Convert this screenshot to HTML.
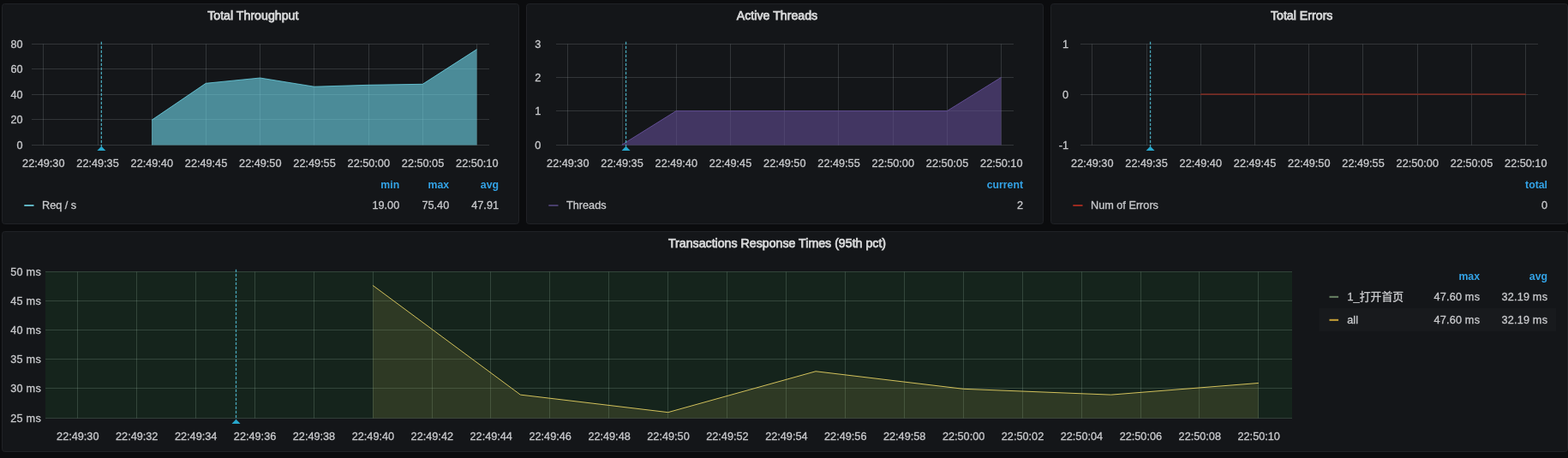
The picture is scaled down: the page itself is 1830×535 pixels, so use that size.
<!DOCTYPE html>
<html><head><meta charset="utf-8"><title>Dashboard</title>
<style>
html,body{margin:0;padding:0;background:#0b0c0e;overflow:hidden}
body{width:1830px;height:535px;font-family:"Liberation Sans",sans-serif}
svg{display:block;will-change:transform}
svg text{font-family:"Liberation Sans",sans-serif;stroke:#c8c9cc;stroke-width:0.3px}
.ttl{stroke:#d8d9da;stroke-width:0.75px}
.hdr{font-size:12.3px;stroke:none}
</style></head><body>
<svg width="1830" height="535" viewBox="0 0 1830 535" font-family="Liberation Sans, sans-serif">
<rect width="1830" height="535" fill="#0b0c0e"/>
<rect x="2.5" y="4.5" width="603" height="257" rx="3" fill="#141619" stroke="#202226"/>
<text x="295.3" y="22.75" text-anchor="middle" font-size="14.2" fill="#d8d9da" font-weight="normal" class="ttl">Total Throughput</text>
<path d="M37 51.5H571" stroke="rgba(200,205,212,0.17)" stroke-width="1"/>
<path d="M37 80.5H571" stroke="rgba(200,205,212,0.17)" stroke-width="1"/>
<path d="M37 110.5H571" stroke="rgba(200,205,212,0.17)" stroke-width="1"/>
<path d="M37 139.5H571" stroke="rgba(200,205,212,0.17)" stroke-width="1"/>
<path d="M37 169.5H571" stroke="rgba(200,205,212,0.17)" stroke-width="1"/>
<path d="M50.5 51.5V169.5" stroke="rgba(200,205,212,0.17)" stroke-width="1"/>
<path d="M114.5 51.5V169.5" stroke="rgba(200,205,212,0.17)" stroke-width="1"/>
<path d="M177.5 51.5V169.5" stroke="rgba(200,205,212,0.17)" stroke-width="1"/>
<path d="M240.5 51.5V169.5" stroke="rgba(200,205,212,0.17)" stroke-width="1"/>
<path d="M303.5 51.5V169.5" stroke="rgba(200,205,212,0.17)" stroke-width="1"/>
<path d="M366.5 51.5V169.5" stroke="rgba(200,205,212,0.17)" stroke-width="1"/>
<path d="M430.5 51.5V169.5" stroke="rgba(200,205,212,0.17)" stroke-width="1"/>
<path d="M493.5 51.5V169.5" stroke="rgba(200,205,212,0.17)" stroke-width="1"/>
<path d="M556.5 51.5V169.5" stroke="rgba(200,205,212,0.17)" stroke-width="1"/>
<text x="26.6" y="55.9" text-anchor="end" font-size="12.7" fill="#c8c9cc" font-weight="normal" >80</text>
<text x="26.6" y="84.9" text-anchor="end" font-size="12.7" fill="#c8c9cc" font-weight="normal" >60</text>
<text x="26.6" y="114.9" text-anchor="end" font-size="12.7" fill="#c8c9cc" font-weight="normal" >40</text>
<text x="26.6" y="143.9" text-anchor="end" font-size="12.7" fill="#c8c9cc" font-weight="normal" >20</text>
<text x="26.6" y="173.9" text-anchor="end" font-size="12.7" fill="#c8c9cc" font-weight="normal" >0</text>
<text x="50.8" y="194.8" text-anchor="middle" font-size="12.7" fill="#c8c9cc" font-weight="normal" >22:49:30</text>
<text x="114.05" y="194.8" text-anchor="middle" font-size="12.7" fill="#c8c9cc" font-weight="normal" >22:49:35</text>
<text x="177.3" y="194.8" text-anchor="middle" font-size="12.7" fill="#c8c9cc" font-weight="normal" >22:49:40</text>
<text x="240.55" y="194.8" text-anchor="middle" font-size="12.7" fill="#c8c9cc" font-weight="normal" >22:49:45</text>
<text x="303.8" y="194.8" text-anchor="middle" font-size="12.7" fill="#c8c9cc" font-weight="normal" >22:49:50</text>
<text x="367.05" y="194.8" text-anchor="middle" font-size="12.7" fill="#c8c9cc" font-weight="normal" >22:49:55</text>
<text x="430.3" y="194.8" text-anchor="middle" font-size="12.7" fill="#c8c9cc" font-weight="normal" >22:50:00</text>
<text x="493.55" y="194.8" text-anchor="middle" font-size="12.7" fill="#c8c9cc" font-weight="normal" >22:50:05</text>
<text x="556.8" y="194.8" text-anchor="middle" font-size="12.7" fill="#c8c9cc" font-weight="normal" >22:50:10</text>
<path d="M177.00 140.3 L240.25 97.3 L303.50 91.0 L366.75 101.2 L430.00 99.3 L493.25 98.3 L556.50 57.6 L556.50 169.5 L177.00 169.5Z" fill="rgba(112,219,237,0.6)"/>
<path d="M177.00 140.3 L240.25 97.3 L303.50 91.0 L366.75 101.2 L430.00 99.3 L493.25 98.3 L556.50 57.6" fill="none" stroke="#70dbed" stroke-opacity="0.75" stroke-width="1" stroke-linejoin="round"/>
<path d="M118.35 48.8V171.0" stroke="#48a6b8" stroke-width="1.3" stroke-dasharray="3.2 1.8"/>
<path d="M118.35 170.7l5 5.3h-10z" fill="#27a7cc"/>
<rect x="28.3" y="239" width="11.2" height="2" fill="#5fb3c1"/>
<text x="49" y="243.8" text-anchor="start" font-size="12.7" fill="#c8c9cc" font-weight="normal" >Req / s</text>
<text x="466.2" y="220.3" text-anchor="end" font-size="12.7" fill="#33a2e5" font-weight="bold" class="hdr">min</text>
<text x="466.2" y="243.8" text-anchor="end" font-size="12.7" fill="#c8c9cc" font-weight="normal" >19.00</text>
<text x="524.2" y="220.3" text-anchor="end" font-size="12.7" fill="#33a2e5" font-weight="bold" class="hdr">max</text>
<text x="524.2" y="243.8" text-anchor="end" font-size="12.7" fill="#c8c9cc" font-weight="normal" >75.40</text>
<text x="582" y="220.3" text-anchor="end" font-size="12.7" fill="#33a2e5" font-weight="bold" class="hdr">avg</text>
<text x="582" y="243.8" text-anchor="end" font-size="12.7" fill="#c8c9cc" font-weight="normal" >47.91</text>
<rect x="614.5" y="4.5" width="603" height="257" rx="3" fill="#141619" stroke="#202226"/>
<text x="907" y="22.75" text-anchor="middle" font-size="14.2" fill="#d8d9da" font-weight="normal" class="ttl">Active Threads</text>
<path d="M649 51.5H1183" stroke="rgba(200,205,212,0.17)" stroke-width="1"/>
<path d="M649 90.5H1183" stroke="rgba(200,205,212,0.17)" stroke-width="1"/>
<path d="M649 129.5H1183" stroke="rgba(200,205,212,0.17)" stroke-width="1"/>
<path d="M649 169.5H1183" stroke="rgba(200,205,212,0.17)" stroke-width="1"/>
<path d="M662.5 51.5V169.5" stroke="rgba(200,205,212,0.17)" stroke-width="1"/>
<path d="M726.5 51.5V169.5" stroke="rgba(200,205,212,0.17)" stroke-width="1"/>
<path d="M789.5 51.5V169.5" stroke="rgba(200,205,212,0.17)" stroke-width="1"/>
<path d="M852.5 51.5V169.5" stroke="rgba(200,205,212,0.17)" stroke-width="1"/>
<path d="M915.5 51.5V169.5" stroke="rgba(200,205,212,0.17)" stroke-width="1"/>
<path d="M978.5 51.5V169.5" stroke="rgba(200,205,212,0.17)" stroke-width="1"/>
<path d="M1042.5 51.5V169.5" stroke="rgba(200,205,212,0.17)" stroke-width="1"/>
<path d="M1105.5 51.5V169.5" stroke="rgba(200,205,212,0.17)" stroke-width="1"/>
<path d="M1168.5 51.5V169.5" stroke="rgba(200,205,212,0.17)" stroke-width="1"/>
<text x="624.2" y="55.9" text-anchor="start" font-size="12.7" fill="#c8c9cc" font-weight="normal" >3</text>
<text x="624.2" y="94.9" text-anchor="start" font-size="12.7" fill="#c8c9cc" font-weight="normal" >2</text>
<text x="624.2" y="133.9" text-anchor="start" font-size="12.7" fill="#c8c9cc" font-weight="normal" >1</text>
<text x="624.2" y="173.9" text-anchor="start" font-size="12.7" fill="#c8c9cc" font-weight="normal" >0</text>
<text x="662.8" y="194.8" text-anchor="middle" font-size="12.7" fill="#c8c9cc" font-weight="normal" >22:49:30</text>
<text x="726.05" y="194.8" text-anchor="middle" font-size="12.7" fill="#c8c9cc" font-weight="normal" >22:49:35</text>
<text x="789.3" y="194.8" text-anchor="middle" font-size="12.7" fill="#c8c9cc" font-weight="normal" >22:49:40</text>
<text x="852.55" y="194.8" text-anchor="middle" font-size="12.7" fill="#c8c9cc" font-weight="normal" >22:49:45</text>
<text x="915.8" y="194.8" text-anchor="middle" font-size="12.7" fill="#c8c9cc" font-weight="normal" >22:49:50</text>
<text x="979.05" y="194.8" text-anchor="middle" font-size="12.7" fill="#c8c9cc" font-weight="normal" >22:49:55</text>
<text x="1042.3" y="194.8" text-anchor="middle" font-size="12.7" fill="#c8c9cc" font-weight="normal" >22:50:00</text>
<text x="1105.55" y="194.8" text-anchor="middle" font-size="12.7" fill="#c8c9cc" font-weight="normal" >22:50:05</text>
<text x="1168.8" y="194.8" text-anchor="middle" font-size="12.7" fill="#c8c9cc" font-weight="normal" >22:50:10</text>
<path d="M725.75 169.2 L789.00 129.7 L852.25 129.7 L915.50 129.7 L978.75 129.7 L1042.00 129.7 L1105.25 129.7 L1168.50 90.4 L1168.50 169.5 L725.75 169.5Z" fill="rgba(97,77,147,0.6)"/>
<path d="M725.75 169.2 L789.00 129.7 L852.25 129.7 L915.50 129.7 L978.75 129.7 L1042.00 129.7 L1105.25 129.7 L1168.50 90.4" fill="none" stroke="#614d93" stroke-width="1" stroke-linejoin="round"/>
<path d="M730.55 48.8V171.0" stroke="#48a6b8" stroke-width="1.3" stroke-dasharray="3.2 1.8"/>
<path d="M730.55 170.7l5 5.3h-10z" fill="#27a7cc"/>
<rect x="640.3" y="239" width="11.2" height="2" fill="#483e6b"/>
<text x="661" y="243.8" text-anchor="start" font-size="12.7" fill="#c8c9cc" font-weight="normal" >Threads</text>
<text x="1194" y="220.3" text-anchor="end" font-size="12.7" fill="#33a2e5" font-weight="bold" class="hdr">current</text>
<text x="1194" y="243.8" text-anchor="end" font-size="12.7" fill="#c8c9cc" font-weight="normal" >2</text>
<rect x="1226.5" y="4.5" width="603" height="257" rx="3" fill="#141619" stroke="#202226"/>
<text x="1519.2" y="22.75" text-anchor="middle" font-size="14.2" fill="#d8d9da" font-weight="normal" class="ttl">Total Errors</text>
<path d="M1261 51.5H1795" stroke="rgba(200,205,212,0.17)" stroke-width="1"/>
<path d="M1261 110.5H1795" stroke="rgba(200,205,212,0.17)" stroke-width="1"/>
<path d="M1261 169.5H1795" stroke="rgba(200,205,212,0.17)" stroke-width="1"/>
<path d="M1274.5 51.5V169.5" stroke="rgba(200,205,212,0.17)" stroke-width="1"/>
<path d="M1338.5 51.5V169.5" stroke="rgba(200,205,212,0.17)" stroke-width="1"/>
<path d="M1401.5 51.5V169.5" stroke="rgba(200,205,212,0.17)" stroke-width="1"/>
<path d="M1464.5 51.5V169.5" stroke="rgba(200,205,212,0.17)" stroke-width="1"/>
<path d="M1527.5 51.5V169.5" stroke="rgba(200,205,212,0.17)" stroke-width="1"/>
<path d="M1590.5 51.5V169.5" stroke="rgba(200,205,212,0.17)" stroke-width="1"/>
<path d="M1654.5 51.5V169.5" stroke="rgba(200,205,212,0.17)" stroke-width="1"/>
<path d="M1717.5 51.5V169.5" stroke="rgba(200,205,212,0.17)" stroke-width="1"/>
<path d="M1780.5 51.5V169.5" stroke="rgba(200,205,212,0.17)" stroke-width="1"/>
<text x="1247.0" y="55.9" text-anchor="end" font-size="12.7" fill="#c8c9cc" font-weight="normal" >1</text>
<text x="1247.0" y="114.9" text-anchor="end" font-size="12.7" fill="#c8c9cc" font-weight="normal" >0</text>
<text x="1247.0" y="173.9" text-anchor="end" font-size="12.7" fill="#c8c9cc" font-weight="normal" >-1</text>
<text x="1274.8" y="194.8" text-anchor="middle" font-size="12.7" fill="#c8c9cc" font-weight="normal" >22:49:30</text>
<text x="1338.05" y="194.8" text-anchor="middle" font-size="12.7" fill="#c8c9cc" font-weight="normal" >22:49:35</text>
<text x="1401.3" y="194.8" text-anchor="middle" font-size="12.7" fill="#c8c9cc" font-weight="normal" >22:49:40</text>
<text x="1464.55" y="194.8" text-anchor="middle" font-size="12.7" fill="#c8c9cc" font-weight="normal" >22:49:45</text>
<text x="1527.8" y="194.8" text-anchor="middle" font-size="12.7" fill="#c8c9cc" font-weight="normal" >22:49:50</text>
<text x="1591.05" y="194.8" text-anchor="middle" font-size="12.7" fill="#c8c9cc" font-weight="normal" >22:49:55</text>
<text x="1654.3" y="194.8" text-anchor="middle" font-size="12.7" fill="#c8c9cc" font-weight="normal" >22:50:00</text>
<text x="1717.55" y="194.8" text-anchor="middle" font-size="12.7" fill="#c8c9cc" font-weight="normal" >22:50:05</text>
<text x="1780.8" y="194.8" text-anchor="middle" font-size="12.7" fill="#c8c9cc" font-weight="normal" >22:50:10</text>
<rect x="1401.00" y="109" width="380.00" height="1" fill="#5a2520"/>
<rect x="1401.00" y="110" width="380.00" height="1" fill="#7a2f26"/>
<path d="M1342.55 48.8V171.0" stroke="#48a6b8" stroke-width="1.3" stroke-dasharray="3.2 1.8"/>
<path d="M1342.55 170.7l5 5.3h-10z" fill="#27a7cc"/>
<rect x="1252.3" y="239" width="11.2" height="2" fill="#9b2a1f"/>
<text x="1273" y="243.8" text-anchor="start" font-size="12.7" fill="#c8c9cc" font-weight="normal" >Num of Errors</text>
<text x="1806" y="220.3" text-anchor="end" font-size="12.7" fill="#33a2e5" font-weight="bold" class="hdr">total</text>
<text x="1806" y="243.8" text-anchor="end" font-size="12.7" fill="#c8c9cc" font-weight="normal" >0</text>
<rect x="2.5" y="270.5" width="1827" height="257" rx="3" fill="#141619" stroke="#202226"/>
<text x="907" y="289.1" text-anchor="middle" font-size="14.2" fill="#d8d9da" font-weight="normal" class="ttl">Transactions Response Times (95th pct)</text>
<rect x="53" y="317.0" width="1455" height="171.5" fill="#15241c"/>
<path d="M53 317.5H1508" stroke="rgba(190,225,205,0.18)" stroke-width="1"/>
<path d="M53 351.5H1508" stroke="rgba(190,225,205,0.18)" stroke-width="1"/>
<path d="M53 385.5H1508" stroke="rgba(190,225,205,0.18)" stroke-width="1"/>
<path d="M53 419.5H1508" stroke="rgba(190,225,205,0.18)" stroke-width="1"/>
<path d="M53 453.5H1508" stroke="rgba(190,225,205,0.18)" stroke-width="1"/>
<path d="M53 488.5H1508" stroke="rgba(190,225,205,0.18)" stroke-width="1"/>
<path d="M90.5 317.5V488.5" stroke="rgba(190,225,205,0.18)" stroke-width="1"/>
<path d="M159.5 317.5V488.5" stroke="rgba(190,225,205,0.18)" stroke-width="1"/>
<path d="M228.5 317.5V488.5" stroke="rgba(190,225,205,0.18)" stroke-width="1"/>
<path d="M297.5 317.5V488.5" stroke="rgba(190,225,205,0.18)" stroke-width="1"/>
<path d="M366.5 317.5V488.5" stroke="rgba(190,225,205,0.18)" stroke-width="1"/>
<path d="M435.5 317.5V488.5" stroke="rgba(190,225,205,0.18)" stroke-width="1"/>
<path d="M504.5 317.5V488.5" stroke="rgba(190,225,205,0.18)" stroke-width="1"/>
<path d="M572.5 317.5V488.5" stroke="rgba(190,225,205,0.18)" stroke-width="1"/>
<path d="M641.5 317.5V488.5" stroke="rgba(190,225,205,0.18)" stroke-width="1"/>
<path d="M710.5 317.5V488.5" stroke="rgba(190,225,205,0.18)" stroke-width="1"/>
<path d="M779.5 317.5V488.5" stroke="rgba(190,225,205,0.18)" stroke-width="1"/>
<path d="M848.5 317.5V488.5" stroke="rgba(190,225,205,0.18)" stroke-width="1"/>
<path d="M917.5 317.5V488.5" stroke="rgba(190,225,205,0.18)" stroke-width="1"/>
<path d="M986.5 317.5V488.5" stroke="rgba(190,225,205,0.18)" stroke-width="1"/>
<path d="M1055.5 317.5V488.5" stroke="rgba(190,225,205,0.18)" stroke-width="1"/>
<path d="M1124.5 317.5V488.5" stroke="rgba(190,225,205,0.18)" stroke-width="1"/>
<path d="M1193.5 317.5V488.5" stroke="rgba(190,225,205,0.18)" stroke-width="1"/>
<path d="M1262.5 317.5V488.5" stroke="rgba(190,225,205,0.18)" stroke-width="1"/>
<path d="M1331.5 317.5V488.5" stroke="rgba(190,225,205,0.18)" stroke-width="1"/>
<path d="M1399.5 317.5V488.5" stroke="rgba(190,225,205,0.18)" stroke-width="1"/>
<path d="M1468.5 317.5V488.5" stroke="rgba(190,225,205,0.18)" stroke-width="1"/>
<text x="48.0" y="321.9" text-anchor="end" font-size="12.7" fill="#c8c9cc" font-weight="normal" letter-spacing="0.25">50 ms</text>
<text x="48.0" y="355.9" text-anchor="end" font-size="12.7" fill="#c8c9cc" font-weight="normal" letter-spacing="0.25">45 ms</text>
<text x="48.0" y="389.9" text-anchor="end" font-size="12.7" fill="#c8c9cc" font-weight="normal" letter-spacing="0.25">40 ms</text>
<text x="48.0" y="423.9" text-anchor="end" font-size="12.7" fill="#c8c9cc" font-weight="normal" letter-spacing="0.25">35 ms</text>
<text x="48.0" y="457.9" text-anchor="end" font-size="12.7" fill="#c8c9cc" font-weight="normal" letter-spacing="0.25">30 ms</text>
<text x="48.0" y="492.9" text-anchor="end" font-size="12.7" fill="#c8c9cc" font-weight="normal" letter-spacing="0.25">25 ms</text>
<text x="90.8" y="513.8" text-anchor="middle" font-size="12.7" fill="#c8c9cc" font-weight="normal" >22:49:30</text>
<text x="159.72000000000003" y="513.8" text-anchor="middle" font-size="12.7" fill="#c8c9cc" font-weight="normal" >22:49:32</text>
<text x="228.64000000000001" y="513.8" text-anchor="middle" font-size="12.7" fill="#c8c9cc" font-weight="normal" >22:49:34</text>
<text x="297.56" y="513.8" text-anchor="middle" font-size="12.7" fill="#c8c9cc" font-weight="normal" >22:49:36</text>
<text x="366.48" y="513.8" text-anchor="middle" font-size="12.7" fill="#c8c9cc" font-weight="normal" >22:49:38</text>
<text x="435.40000000000003" y="513.8" text-anchor="middle" font-size="12.7" fill="#c8c9cc" font-weight="normal" >22:49:40</text>
<text x="504.32" y="513.8" text-anchor="middle" font-size="12.7" fill="#c8c9cc" font-weight="normal" >22:49:42</text>
<text x="573.24" y="513.8" text-anchor="middle" font-size="12.7" fill="#c8c9cc" font-weight="normal" >22:49:44</text>
<text x="642.16" y="513.8" text-anchor="middle" font-size="12.7" fill="#c8c9cc" font-weight="normal" >22:49:46</text>
<text x="711.0799999999999" y="513.8" text-anchor="middle" font-size="12.7" fill="#c8c9cc" font-weight="normal" >22:49:48</text>
<text x="780.0" y="513.8" text-anchor="middle" font-size="12.7" fill="#c8c9cc" font-weight="normal" >22:49:50</text>
<text x="848.92" y="513.8" text-anchor="middle" font-size="12.7" fill="#c8c9cc" font-weight="normal" >22:49:52</text>
<text x="917.8399999999999" y="513.8" text-anchor="middle" font-size="12.7" fill="#c8c9cc" font-weight="normal" >22:49:54</text>
<text x="986.76" y="513.8" text-anchor="middle" font-size="12.7" fill="#c8c9cc" font-weight="normal" >22:49:56</text>
<text x="1055.68" y="513.8" text-anchor="middle" font-size="12.7" fill="#c8c9cc" font-weight="normal" >22:49:58</text>
<text x="1124.6" y="513.8" text-anchor="middle" font-size="12.7" fill="#c8c9cc" font-weight="normal" >22:50:00</text>
<text x="1193.52" y="513.8" text-anchor="middle" font-size="12.7" fill="#c8c9cc" font-weight="normal" >22:50:02</text>
<text x="1262.44" y="513.8" text-anchor="middle" font-size="12.7" fill="#c8c9cc" font-weight="normal" >22:50:04</text>
<text x="1331.36" y="513.8" text-anchor="middle" font-size="12.7" fill="#c8c9cc" font-weight="normal" >22:50:06</text>
<text x="1400.28" y="513.8" text-anchor="middle" font-size="12.7" fill="#c8c9cc" font-weight="normal" >22:50:08</text>
<text x="1469.2" y="513.8" text-anchor="middle" font-size="12.7" fill="#c8c9cc" font-weight="normal" >22:50:10</text>
<path d="M435.10 333.40 L607.40 461.14 L779.70 481.66 L952.00 433.78 L1124.30 454.30 L1296.60 461.14 L1468.90 447.46 L1468.90 488.5 L435.10 488.5Z" fill="rgba(151,147,72,0.2)"/>
<path d="M435.10 333.40 L607.40 461.14 L779.70 481.66 L952.00 433.78 L1124.30 454.30 L1296.60 461.14 L1468.90 447.46" fill="none" stroke="#d3c25c" stroke-width="1" stroke-linejoin="round"/>
<path d="M275.5 314.8V490.0" stroke="#48a6b8" stroke-width="1.3" stroke-dasharray="3.2 1.8"/>
<path d="M275.5 489.7l5 5.3h-10z" fill="#27a7cc"/>
<text x="1727" y="327" text-anchor="end" font-size="12.7" fill="#33a2e5" font-weight="bold" class="hdr">max</text>
<text x="1806" y="327" text-anchor="end" font-size="12.7" fill="#33a2e5" font-weight="bold" class="hdr">avg</text>
<rect x="1539.5" y="360" width="276.5" height="27" fill="#181a1d"/>
<rect x="1551.5" y="345.8" width="10.6" height="2" fill="#6a8465"/>
<rect x="1551.5" y="372.8" width="10.6" height="2" fill="#c9a237"/>
<text x="1572.5" y="350.8" text-anchor="start" font-size="12.7" fill="#c8c9cc" font-weight="normal" >1_</text>
<text x="1586.8" y="351.4" text-anchor="start" font-size="12.8" fill="#c8c9cc" font-weight="normal" style="font-family:'Liberation Sans','Noto Sans CJK SC',sans-serif">打开首页</text>
<text x="1572.3" y="377.8" text-anchor="start" font-size="12.7" fill="#c8c9cc" font-weight="normal" >all</text>
<text x="1727.2" y="350.8" text-anchor="end" font-size="12.7" fill="#c8c9cc" font-weight="normal" letter-spacing="0.2">47.60 ms</text>
<text x="1806.2" y="350.8" text-anchor="end" font-size="12.7" fill="#c8c9cc" font-weight="normal" letter-spacing="0.2">32.19 ms</text>
<text x="1727.2" y="377.8" text-anchor="end" font-size="12.7" fill="#c8c9cc" font-weight="normal" letter-spacing="0.2">47.60 ms</text>
<text x="1806.2" y="377.8" text-anchor="end" font-size="12.7" fill="#c8c9cc" font-weight="normal" letter-spacing="0.2">32.19 ms</text>
</svg>
</body></html>
